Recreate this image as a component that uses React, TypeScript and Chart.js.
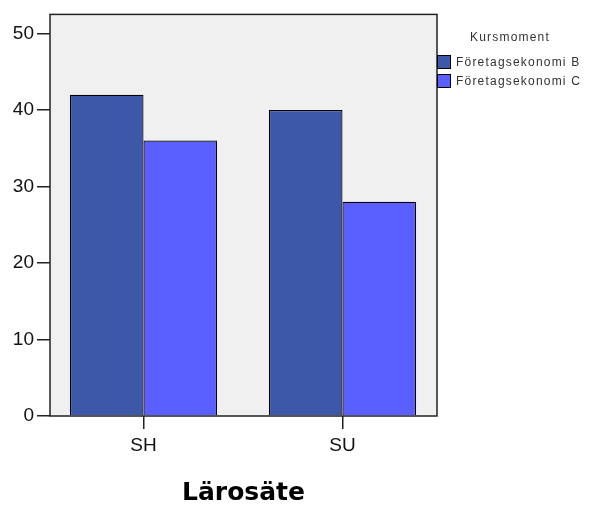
import React, { useEffect, useRef } from "react";
import { Chart, registerables } from "chart.js";

Chart.register(...registerables);

const categories = ["SH", "SU"];
const seriesNames = ["Företagsekonomi B", "Företagsekonomi C"];
const seriesB = [42, 40];
const seriesC = [36, 28];
const yTicks = [0, 10, 20, 30, 40, 50];
const legendTitle = "Kursmoment";
const xTitle = "Lärosäte";

const colorB = "#3D57A9";
const colorC = "#5A5FFF";

const W = 591;
const H = 505;

export default function App() {
  const ref = useRef<HTMLCanvasElement | null>(null);

  useEffect(() => {
    document.body.style.margin = "0";
    const canvas = ref.current;
    if (!canvas) return;

    const boxPlugin = {
      id: "boxPlugin",
      beforeDatasetsDraw(chart: any) {
        const { ctx, chartArea } = chart;
        ctx.save();
        ctx.fillStyle = "#F0F0F0";
        ctx.fillRect(chartArea.left, chartArea.top, chartArea.right - chartArea.left, chartArea.bottom - chartArea.top);
        ctx.restore();
      },
      afterDatasetsDraw(chart: any) {
        const { ctx, chartArea } = chart;
        ctx.save();
        ctx.strokeStyle = "#222";
        ctx.lineWidth = 1.5;
        ctx.strokeRect(chartArea.left, chartArea.top, chartArea.right - chartArea.left, chartArea.bottom - chartArea.top);
        ctx.restore();
      },
      afterDraw(chart: any) {
        const { ctx, chartArea } = chart;
        ctx.save();
        ctx.fillStyle = "#000";
        ctx.font = "bold 25px 'DejaVu Sans'";
        ctx.textAlign = "center";
        ctx.textBaseline = "alphabetic";
        ctx.fillText(xTitle, (chartArea.left + chartArea.right) / 2, 500);
        (ctx as any).letterSpacing = "1.2px";
        ctx.font = "12px 'Liberation Sans'";
        ctx.fillStyle = "#333";
        ctx.textBaseline = "middle";
        ctx.textAlign = "center";
        ctx.fillText(legendTitle, 510, 38);
        ctx.textAlign = "left";
        const ds = chart.data.datasets;
        ds.forEach((d: any, i: number) => {
          const y = 55 + i * 19;
          ctx.fillStyle = d.backgroundColor;
          ctx.fillRect(437, y, 14, 14);
          ctx.strokeStyle = "#000";
          ctx.lineWidth = 1;
          ctx.strokeRect(437.5, y + 0.5, 13, 13);
          ctx.fillStyle = "#333";
          ctx.fillText(d.label, 456, y + 7.5);
        });
        ctx.restore();
      },
    };

    const toPoints = (vals: number[]) => vals.map((v, i) => ({ x: i, y: v }));

    const chart = new Chart(canvas, {
      type: "bar",
      data: {
        datasets: [
          { label: seriesNames[0], data: toPoints(seriesB), backgroundColor: colorB, borderColor: "#000", borderWidth: 1.2 },
          { label: seriesNames[1], data: toPoints(seriesC), backgroundColor: colorC, borderColor: "#000", borderWidth: 1.2 },
        ],
      },
      options: {
        animation: false,
        responsive: false,
        maintainAspectRatio: false,
        layout: { padding: { top: 14, right: 154, left: 0, bottom: 0 } },
        plugins: { legend: { display: false }, tooltip: { enabled: false } },
        datasets: { bar: { categoryPercentage: 0.74, barPercentage: 1 } },
        scales: {
          x: {
            type: "linear",
            min: -0.47,
            max: categories.length - 1 + 0.475,
            offset: false,
            afterFit(scale: any) { scale.height = 89; },
            afterBuildTicks(scale: any) { scale.ticks = categories.map((_, i) => ({ value: i })); },
            grid: { display: true, offset: false, drawOnChartArea: false, tickLength: 13, color: "#222", lineWidth: 1.5 },
            border: { display: false },
            ticks: {
              font: { family: "'Liberation Sans'", size: 19 },
              color: "#111",
              padding: 5,
              callback: (v: any) => categories[Math.round(Number(v))] ?? "",
            },
          },
          y: {
            min: 0,
            max: 52.5,
            afterFit(scale: any) { scale.width = 50; },
            afterBuildTicks(scale: any) { scale.ticks = yTicks.map((v) => ({ value: v })); },
            grid: { display: true, drawOnChartArea: false, tickLength: 13, color: "#222", lineWidth: 1.5 },
            border: { display: false },
            ticks: { font: { family: "'Liberation Sans'", size: 19 }, color: "#111", padding: 3 },
          },
        },
      },
      plugins: [boxPlugin],
    });
    return () => chart.destroy();
  }, []);

  return (
    <div style={{ width: W, height: H, background: "#fff" }}>
      <canvas ref={ref} width={W} height={H} style={{ display: "block" }} />
    </div>
  );
}
